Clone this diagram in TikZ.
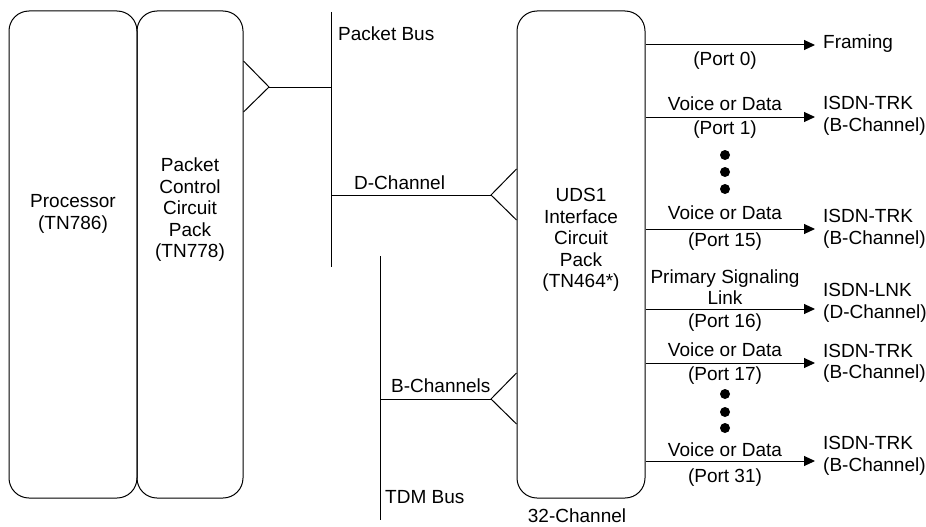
\documentclass[tikz,border=0pt]{standalone}
\usepackage{fontspec}
\setmainfont{Liberation Sans}
\usetikzlibrary{arrows.meta}
\begin{document}
\begin{tikzpicture}[x=1pt,y=-1pt,
  every node/.style={font=\fontsize{19}{21.5}\selectfont, inner sep=0pt},
  box/.style={draw, line width=1pt, rounded corners=20pt, minimum height=487pt},
  ln/.style={line width=1pt},
  arr/.style={line width=1pt, -{Triangle[length=11pt,width=10pt]}},
  lbl/.style={align=center},
  dst/.style={align=left, anchor=west}]
\useasboundingbox (0,0) rectangle (926,527);
% boxes
\node[box, minimum width=128pt] (proc) at (73,254.5) {};
\node[box, minimum width=106pt] (pcp) at (190,254.5) {};
\node[box, minimum width=128pt] (uds) at (581,254.5) {};
\node[lbl] (proct) at (73,214) {Processor\\(TN786)};
\node[lbl] (pcpt) at (190,210) {Packet\\Control\\Circuit\\Pack\\(TN778)};
\node[lbl] (udst) at (581,240) {UDS1\\Interface\\Circuit\\Pack\\(TN464*)};
\node (ch32) at (577,516) {32-Channel};
% buses
\coordinate (pbtop) at (331,12);
\coordinate (pbbot) at (331,267);
\coordinate (tdmtop) at (380,256);
\coordinate (tdmbot) at (380,520);
\draw[ln] (pbtop) -- (pbbot);
\draw[ln] (tdmtop) -- (tdmbot);
\node[anchor=west] (pbl) at (338,34) {Packet Bus};
\node[anchor=west] (tdml) at (385,497) {TDM Bus};
% PCP triangle
\coordinate (pa) at (269,87);
\draw[ln] (pcp.east |- 0,61) -- (pa) -- (pcp.east |- 0,112);
\draw[ln] (pa) -- (pbtop |- pa);
% D-channel
\coordinate (da) at (491,195);
\draw[ln] (uds.west |- 0,169) -- (da) -- (uds.west |- 0,220);
\draw[ln] (pbtop |- da) -- (da);
\node[anchor=west] (dl) at (354,183) {D-Channel};
% B-channels
\coordinate (ba) at (491,399);
\draw[ln] (uds.west |- 0,373) -- (ba) -- (uds.west |- 0,424);
\draw[ln] (tdmtop |- ba) -- (ba);
\node[anchor=west] (bl) at (391,386) {B-Channels};
% outputs
\coordinate (e0) at (815,45);
\coordinate (e1) at (815,117);
\coordinate (e15) at (815,229);
\coordinate (e16) at (815,309);
\coordinate (e17) at (815,363);
\coordinate (e31) at (815,461);
\foreach \e in {e0,e1,e15,e16,e17,e31} \draw[arr] (uds.east |- \e) -- (\e);
\node[dst] (d0) at (823,44) {Framing};
\node[dst] (d1) at (823,116) {ISDN-TRK\\(B-Channel)};
\node[dst] (d15) at (823,229) {ISDN-TRK\\(B-Channel)};
\node[dst] (d16) at (823,303) {ISDN-LNK\\(D-Channel)};
\node[dst] (d17) at (823,363.5) {ISDN-TRK\\(B-Channel)};
\node[dst] (d31) at (823,456) {ISDN-TRK\\(B-Channel)};
\node (p0) at (725,61) {(Port 0)};
\node (v1) at (725,104) {Voice or Data};
\node (p1) at (725,130) {(Port 1)};
\node (v15) at (725,213) {Voice or Data};
\node (p15) at (725,242) {(Port 15)};
\node[lbl] (v16) at (725,287) {Primary Signaling\\Link};
\node (p16) at (725,323) {(Port 16)};
\node (v17) at (725,350) {Voice or Data};
\node (p17) at (725,376) {(Port 17)};
\node (v31) at (725,450) {Voice or Data};
\node (p31) at (725,478) {(Port 31)};
% dots
\foreach \y in {155,172,189,394,412,428} \fill (725,\y) circle (5pt);
\end{tikzpicture}
\end{document}
